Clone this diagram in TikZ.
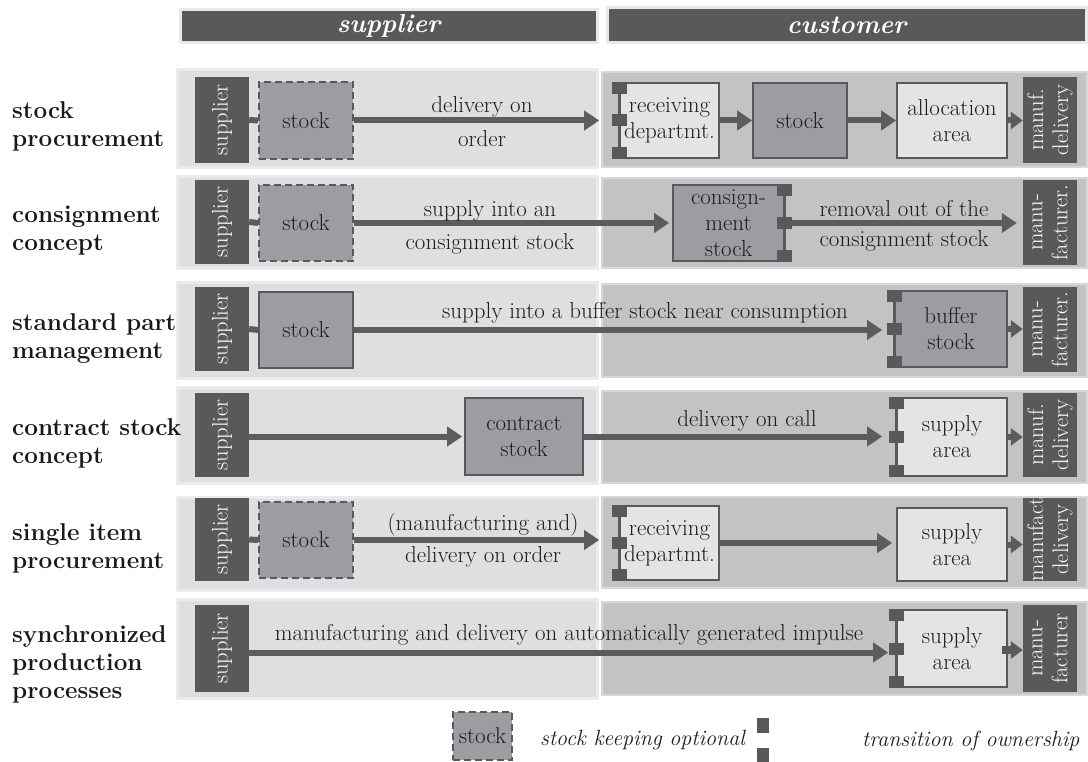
\documentclass[tikz,border=0pt]{standalone}
\usetikzlibrary{arrows.meta}
\definecolor{dk}{HTML}{58595B}
\definecolor{arrc}{HTML}{5B5C5E}
\definecolor{lpan}{HTML}{DEDFE1}
\definecolor{lpanb}{HTML}{EBEBEC}
\definecolor{rpan}{HTML}{C2C3C5}
\definecolor{rpanb}{HTML}{D8D8D9}
\definecolor{sgray}{HTML}{9C9DA0}
\definecolor{lbox}{HTML}{E3E4E6}
\definecolor{txt}{HTML}{1C1C1C}
\definecolor{hdrb}{HTML}{E9E9EA}
\newcommand\ownmarks[2]{%
  \draw[mkline] (#1.north #2) -- (#1.south #2);
  \node[mk, anchor=north] (#1-mt) at (#1.north #2) {};
  \node[mk] (#1-mm) at (#1.#2) {};
  \node[mk, anchor=south] (#1-mb) at (#1.south #2) {};
}
\begin{document}
\begin{tikzpicture}[x=1pt, y=-1pt,
 body/.style={font=\fontsize{23}{26}\selectfont, text=txt, align=center, inner sep=0pt},
 dkbox/.style={fill=dk, text=white, rotate=90, inner sep=0pt, align=center, font=\fontsize{22.5}{25}\selectfont},
 optst/.style={body, fill=sgray, draw=dk, line width=2pt, dash pattern=on 7pt off 4pt},
 gbox/.style={body, fill=sgray, draw=dk, line width=1.6pt},
 lbx/.style={body, fill=lbox, draw=dk, line width=1.6pt},
 lpanel/.style={fill=lpan, draw=lpanb, line width=3pt},
 rpanel/.style={fill=rpan, draw=rpanb, line width=2pt},
 hdr/.style={fill=dk, draw=hdrb, line width=3pt, text=white, font=\fontsize{26}{30}\selectfont\bfseries\itshape},
 arr/.style={draw=arrc, line width=6pt, -{Triangle[length=15pt,width=19pt]}},
 stub/.style={draw=arrc, line width=6pt},
 tipa/.style={draw=arrc, line width=6pt, -{Triangle[length=12pt,width=17pt]}},
 mk/.style={fill=dk, minimum width=15pt, minimum height=12pt, inner sep=0pt},
 mkline/.style={draw=dk, line width=2.5pt},
 rowlab/.style={font=\fontsize{24.3}{28}\selectfont\bfseries, text=black!90, align=left, anchor=west, inner sep=0pt},
 leg/.style={font=\fontsize{22}{25}\selectfont\itshape, text=txt, anchor=west, inner sep=0pt},
]
\useasboundingbox[fill=white] (0,0) rectangle (1088,762);

% headers
\node[hdr, minimum width=417pt, minimum height=33pt] (hsup) at (388.5,26) {supplier};
\node[hdr, minimum width=479pt, minimum height=35pt] (hcus) at (846.5,25.5) {customer};

% panels
\node[lpanel, minimum width=420pt, minimum height=98pt] (lp1) at (387,119) {};
\node[lpanel, minimum width=420pt, minimum height=92pt] (lp2) at (387,223) {};
\node[lpanel, minimum width=420pt, minimum height=95pt] (lp3) at (387,330.5) {};
\node[lpanel, minimum width=420pt, minimum height=96pt] (lp4) at (387,435) {};
\node[lpanel, minimum width=420pt, minimum height=93pt] (lp5) at (387,543.5) {};
\node[lpanel, minimum width=420pt, minimum height=99pt] (lp6) at (387,648.5) {};
\node[rpanel, minimum width=485pt, minimum height=95pt] (rp1) at (844.5,119.5) {};
\node[rpanel, minimum width=485pt, minimum height=90pt] (rp2) at (844.5,223) {};
\node[rpanel, minimum width=485pt, minimum height=93pt] (rp3) at (844.5,330.5) {};
\node[rpanel, minimum width=485pt, minimum height=92pt] (rp4) at (844.5,437) {};
\node[rpanel, minimum width=485pt, minimum height=91pt] (rp5) at (844.5,542.5) {};
\node[rpanel, minimum width=485pt, minimum height=93pt] (rp6) at (844.5,648.5) {};

% row labels
\node[rowlab] (lab1) at (12,126) {stock\\procurement};
\node[rowlab] (lab2) at (12,230.5) {consignment\\concept};
\node[rowlab] (lab3) at (12,338.5) {standard part\\management};
\node[rowlab] (lab4) at (12,443.5) {contract stock\\concept};
\node[rowlab] (lab5) at (12,548.5) {single item\\procurement};
\node[rowlab] (lab6) at (12,664) {synchronized\\production\\processes};

% supplier boxes
\node[dkbox, minimum width=86pt, minimum height=54pt] (s1) at (222,120) {supplier};
\node[dkbox, minimum width=84pt, minimum height=54pt] (s2) at (222,222) {supplier};
\node[dkbox, minimum width=84pt, minimum height=54pt] (s3) at (222,329) {supplier};
\node[dkbox, minimum width=84pt, minimum height=54pt] (s4) at (222,435) {supplier};
\node[dkbox, minimum width=83pt, minimum height=54pt] (s5) at (222,539.5) {supplier};
\node[dkbox, minimum width=87pt, minimum height=54pt] (s6) at (222,648.5) {supplier};

% manufacturer boxes
\node[dkbox, minimum width=86pt, minimum height=54pt] (m1) at (1050,120) {manuf.\\delivery};
\node[dkbox, minimum width=85pt, minimum height=54pt] (m2) at (1050,222.5) {manu-\\facturer.};
\node[dkbox, minimum width=85pt, minimum height=54pt] (m3) at (1050,329.5) {manu-\\facturer.};
\node[dkbox, minimum width=84pt, minimum height=54pt] (m4) at (1050,435) {manuf.\\delivery};
\node[dkbox, minimum width=83pt, minimum height=54pt] (m5) at (1050,539.5) {manufact\\delivery};
\node[dkbox, minimum width=87pt, minimum height=54pt] (m6) at (1050,648.5) {manu-\\facturer};

% supplier-side stock boxes
\node[optst, minimum width=94pt, minimum height=77pt] (st1) at (306,120.5) {stock};
\node[optst, minimum width=94pt, minimum height=76pt] (st2) at (306,223) {stock};
\node[gbox, minimum width=94pt, minimum height=76pt] (st3) at (306,330) {stock};
\node[optst, minimum width=94pt, minimum height=76pt] (st5) at (306,540) {stock};
\node[gbox, minimum width=118pt, minimum height=77pt] (con) at (524,436.5) {contract\\stock};

% customer-side boxes
\node[lbx, minimum width=99pt, minimum height=75pt] (recv1) at (669.5,120.5) {receiving\\departmt.};
\node[gbox, minimum width=94pt, minimum height=75pt] (sk1) at (800,120.5) {stock};
\node[lbx, minimum width=110pt, minimum height=75pt] (al1) at (952,120.5) {allocation\\area};
\node[gbox, minimum width=111pt, minimum height=76pt, font=\fontsize{23}{26}\selectfont] (cons) at (728.5,223) {consign-\\ment\\stock};
\node[gbox, minimum width=112pt, minimum height=76pt] (buf) at (951,329) {buffer\\stock};
\node[lbx, minimum width=110pt, minimum height=78pt] (sa4) at (952,437) {supply\\area};
\node[lbx, minimum width=99pt, minimum height=74pt] (recv5) at (669.5,543) {receiving\\departmt.};
\node[lbx, minimum width=110pt, minimum height=73pt] (sa5) at (952,544.5) {supply\\area};
\node[lbx, minimum width=110pt, minimum height=77pt] (sa6) at (952,648.5) {supply\\area};
\node[fill=dk, minimum width=11pt, minimum height=8pt, inner sep=0pt] (sa6o) at (1007.5,650) {};

% stubs supplier -> stock
\draw[stub] (s1.south) -- (st1.west);
\draw[stub] (s2.south) -- (st2.west);
\draw[stub] (s3.south) -- (st3.west);
\draw[stub] (s5.south) -- (st5.west);

% arrows
\draw[arr, shorten >=20pt] (st1.east) -- (recv1.west);
\draw[arr] (recv1.east) -- (sk1.west);
\draw[arr] (sk1.east) -- (al1.west);
\draw[tipa] (al1.east) -- (al1.east -| m1.north);

\draw[arr, shorten >=3pt] (st2.east) -- (cons.west);
\draw[arr, shorten <=7pt, shorten >=6pt] (cons.east) -- (cons.east -| m2.north);

\draw[arr, shorten >=12pt] (st3.east) -- (st3.east -| buf.west);
\draw[tipa] (buf.east) -- (buf.east -| m3.north);

\draw[arr, shorten >=2pt] (s4.south |- con.west) -- (con.west);
\draw[arr, shorten >=14pt] (con.east) -- (con.east -| sa4.west);
\draw[tipa] (sa4.east) -- (sa4.east -| m4.north);

\draw[arr, shorten >=20pt] (st5.east) -- (st5.east -| recv5.west);
\draw[arr, shorten >=4pt] (recv5.east) -- (recv5.east -| sa5.west);
\draw[tipa] (sa5.east) -- (sa5.east -| m5.north);

\draw[arr, shorten >=8pt] ([yshift=-4pt]s6.south) -- ([yshift=-4pt]s6.south -| sa6.west);
\draw[tipa] (sa6o.east) -- (sa6o.east -| m6.north);

% ownership markers
\ownmarks{recv1}{west}
\ownmarks{cons}{east}
\ownmarks{buf}{west}
\ownmarks{sa4}{west}
\ownmarks{recv5}{west}
\ownmarks{sa6}{west}

% arrow labels
\node[body] (t1a) at (482,107) {delivery on};
\node[body] (t1b) at (482,139) {order};
\node[body] (t2a) at (490,211) {supply into an};
\node[body] (t2b) at (490,244) {consignment stock};
\node[body] (t2c) at (904,209) {removal out of the};
\node[body] (t2d) at (904,241) {consignment stock};
\node[body] (t3) at (645,313) {supply into a buffer stock near consumption};
\node[body] (t4) at (747,421) {delivery on call};
\node[body] (t5a) at (483,525) {(manufacturing and)};
\node[body] (t5b) at (483,557) {delivery on order};
\node[body] (t6) at (569,635) {manufacturing and delivery on automatically generated impulse};

% legend
\node[optst, minimum width=59pt, minimum height=48pt] (lgs) at (482.5,736) {stock};
\node[leg] (lgt1) at (540,740) {stock keeping optional};
\node[fill=dk, minimum width=12pt, minimum height=15pt, inner sep=0pt] (lgm1) at (763,725.5) {};
\node[fill=dk, minimum width=12pt, minimum height=14pt, inner sep=0pt] (lgm2) at (763,755) {};
\node[leg] (lgt2) at (862,741) {transition of ownership};
\end{tikzpicture}
\end{document}
